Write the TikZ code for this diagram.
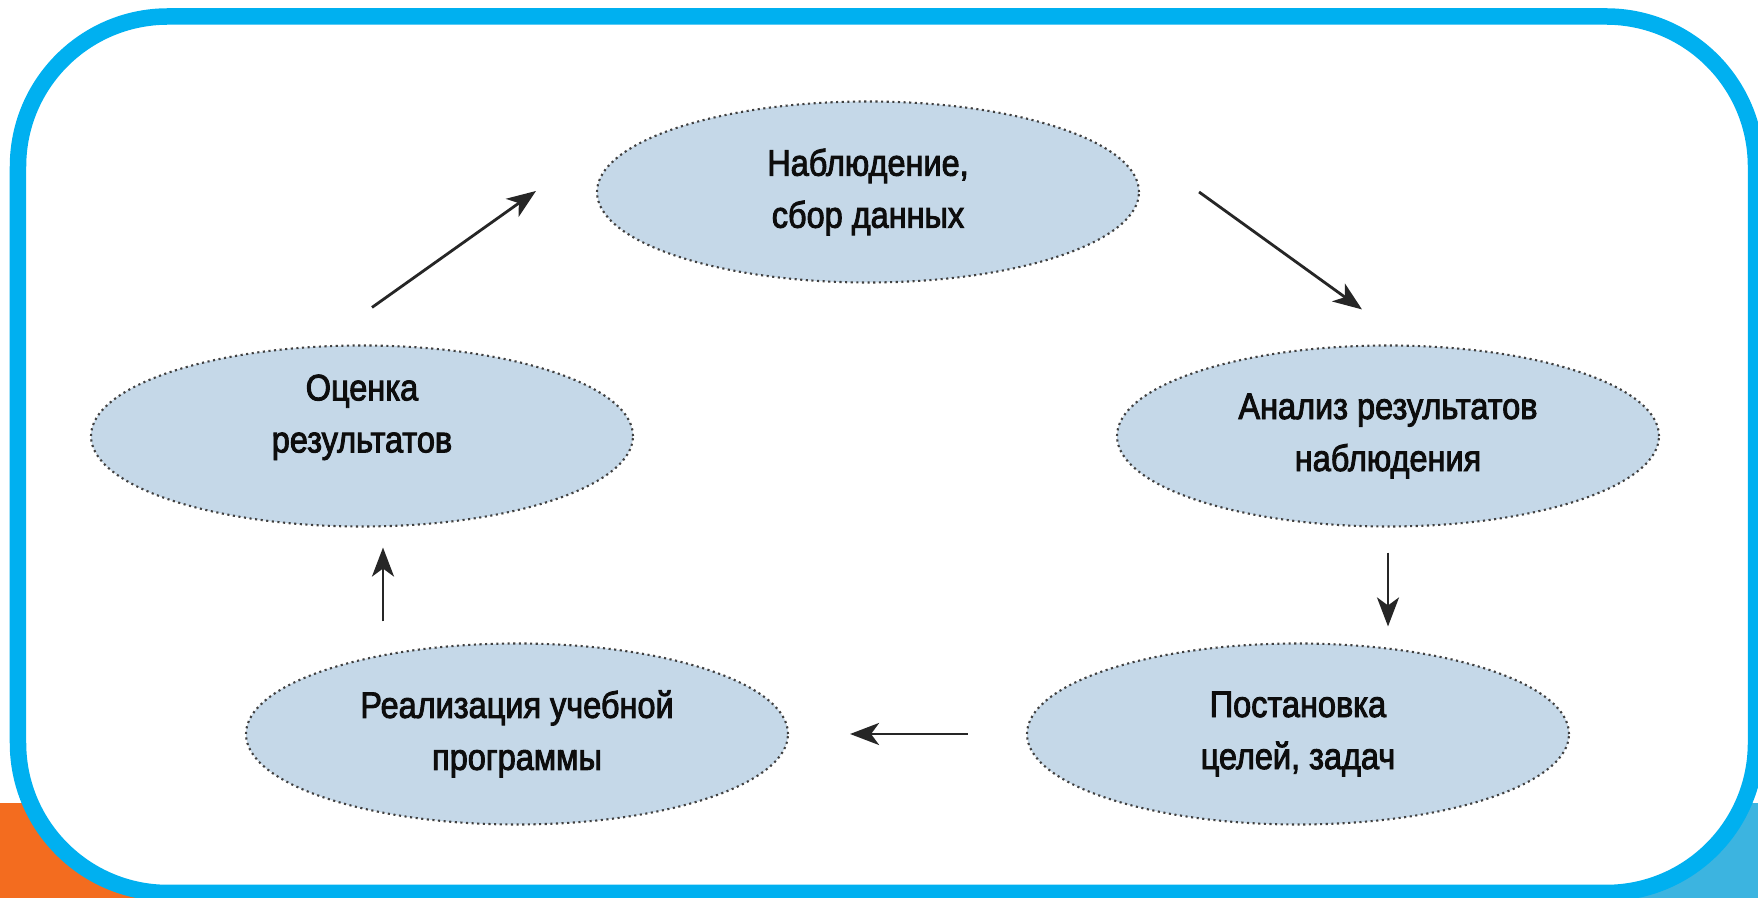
\documentclass[tikz,border=0pt]{standalone}
\usepackage{fontspec}
\setmainfont{Liberation Sans}[FakeStretch=0.88,FakeBold=2.5]
\usetikzlibrary{arrows.meta,shapes.geometric,calc}
\definecolor{frameblue}{HTML}{00B0F0}
\definecolor{cornerblue}{HTML}{3CB4E0}
\definecolor{cornerorange}{HTML}{F36C1F}
\definecolor{stagefill}{HTML}{C5D8E8}
\tikzset{
    stage/.style={ellipse,draw=black!75,densely dotted,line width=0.6pt,fill=stagefill,
        minimum width=5.42cm,minimum height=1.81cm,align=center,
        font=\fontsize{10.5}{14.8}\selectfont,text=black!95},
    arr/.style={-{Stealth[length=2.9mm,width=2.2mm,inset=0.8mm]},line width=0.8pt,black!85}
}
\begin{document}
\begin{tikzpicture}
    \useasboundingbox (0,0) rectangle (17.58,8.98);
    \fill[cornerorange] (0,0) rectangle (3,0.95);
    \fill[cornerblue] (15,0) rectangle (17.58,0.95);
    \draw[frameblue,line width=0.165cm,fill=white,rounded corners=1.5cm] (0.18,0.05) rectangle (17.56,8.815);
    \node[stage] (obs) at (8.68,7.06) {Наблюдение,\\сбор данных};
    \node[stage] (ana) at (13.88,4.62) {Анализ результатов\\наблюдения};
    \node[stage] (goal) at (12.98,1.64) {Постановка\\целей, задач};
    \node[stage] (impl) at (5.17,1.64) {Реализация учебной\\программы};
    \node[stage,text depth=4.5mm,inner ysep=0pt] (eva) at (3.62,4.62) {Оценка\\результатов};
    \draw[arr] ([xshift=5.9mm]obs.east) -- ([shift={(-2.6mm,3.5mm)}]ana.north);
    \draw[arr,shorten <=2.5mm,shorten >=1.6mm] (ana.south) -- (ana.south |- goal.north);
    \draw[arr,shorten <=5.8mm,shorten >=6.1mm] (goal) -- (impl);
    \draw[arr,shorten <=2.1mm,shorten >=2mm] ($(eva.south |- impl.north)+(2.1mm,0)$) -- ($(eva.south)+(2.1mm,0)$);
    \draw[arr] ([shift={(1mm,3.7mm)}]eva.north) -- ([shift={(-6mm,0.1mm)}]obs.west);
\end{tikzpicture}
\end{document}
